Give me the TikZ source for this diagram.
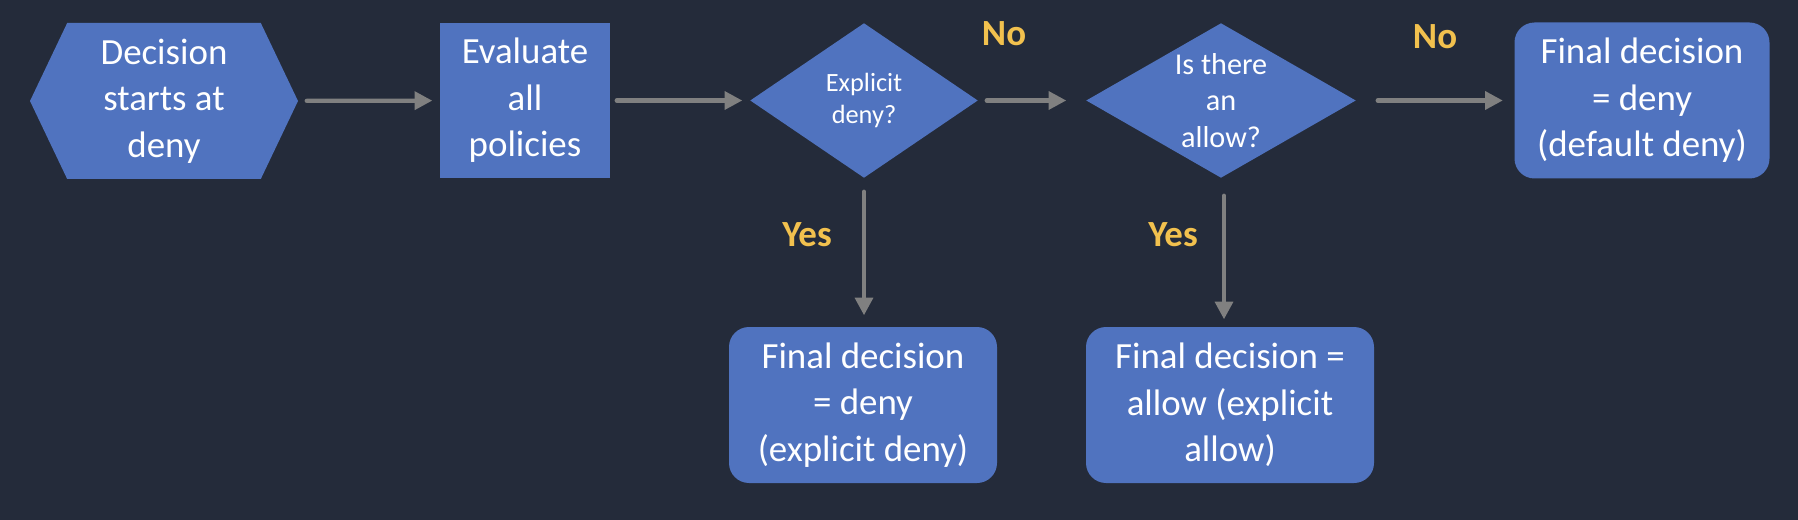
\documentclass[tikz,border=0pt]{standalone}
\usepackage{fontspec}
\setmainfont{Carlito}
\usetikzlibrary{shapes.geometric,shapes.symbols,arrows.meta}
\definecolor{fondo}{HTML}{242B3A}
\definecolor{caja}{HTML}{5073BF}
\definecolor{flecha}{HTML}{808080}
\definecolor{etiq}{HTML}{F2C14E}
\tikzstyle{every path}=[line cap=round, line join=round]
\tikzstyle{bloque}=[fill=caja, text=white, align=center, inner sep=0pt, font=\fontsize{10.5}{13.2}\selectfont]
\tikzstyle{final}=[bloque, rounded corners=0.2cm, minimum height=1.56cm]
\tikzstyle{pregunta}=[bloque, diamond, inner sep=-1pt, minimum height=1.55cm]
\tikzstyle{flechagris}=[draw=flecha, line width=1.2pt, -{Triangle[length=5pt,width=5pt]}]
\tikzstyle{resp}=[text=etiq, font=\fontsize{10.5}{12}\selectfont\bfseries]

\begin{document}
\begin{tikzpicture}
          %fondo
          \fill[fondo] (0,0) rectangle (17.98,-5.2);
          %inicio
          \node[bloque, signal, signal to=west and east, signal pointer angle=129,
                minimum width=2.68cm, minimum height=1.56cm] (inicio) at (1.64,-1.01) {Decision\\starts at\\deny};
          \node[bloque, minimum width=1.70cm, minimum height=1.55cm] (evaluar) at (5.25,-1.005) {Evaluate\\all\\policies};
          %decisiones
          \node[pregunta, aspect=1.47, minimum width=2.28cm, font=\fontsize{7.5}{9}\selectfont] (denegar) at (8.64,-1.005) {Explicit\\deny?};
          \node[pregunta, aspect=1.74, minimum width=2.70cm, font=\fontsize{8.6}{10.4}\selectfont] (permitir) at (12.21,-1.005) {Is there\\an\\allow?};
          %resultados
          \node[final, minimum width=2.55cm] (defecto) at (16.42,-1.005) {Final decision\\= deny\\(default deny)};
          \node[final, minimum width=2.68cm] (explicito) at (8.63,-4.05) {Final decision\\= deny\\(explicit deny)};
          \node[final, minimum width=2.88cm] (permitido) at (12.30,-4.05) {Final decision =\\allow (explicit\\allow)};
          %flechas
          \draw[flechagris, shorten <=0.08cm, shorten >=0.07cm] (inicio) -- (evaluar);
          \draw[flechagris, shorten <=0.06cm, shorten >=0.07cm] (evaluar) -- (denegar);
          \draw[flechagris, shorten <=0.08cm, shorten >=0.19cm] (denegar) -- (permitir);
          \draw[flechagris, shorten <=0.21cm, shorten >=0.11cm] (permitir) -- (defecto);
          \draw[flechagris, shorten <=0.13cm, shorten >=0.11cm] (denegar.south) -- (denegar.south |- explicito.north);
          \draw[flechagris, shorten <=0.17cm, shorten >=0.07cm] ([xshift=0.03cm]permitir.south) -- ([xshift=0.03cm]permitir.south |- permitido.north);
          %etiquetas
          \node[resp] (no1) at (10.04,-0.34) {No};
          \node[resp] (no2) at (14.35,-0.37) {No};
          \node[resp] (si1) at (8.07,-2.35) {Yes};
          \node[resp] (si2) at (11.73,-2.35) {Yes};
        \end{tikzpicture}
\end{document}
